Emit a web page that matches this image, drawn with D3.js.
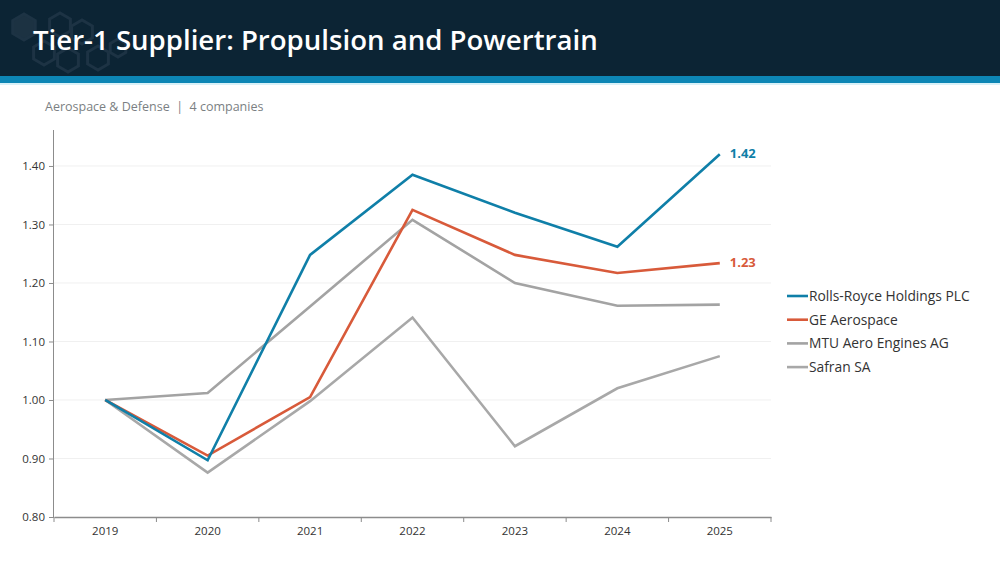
<!DOCTYPE html>
<html>
<head>
<meta charset="utf-8">
<script src="https://cdn.jsdelivr.net/npm/d3@7"></script>
<style>
  body { margin: 0; background: #fff; font-family: "Open Sans", "Noto Sans", sans-serif; }
  svg { display: block; }
</style>
</head>
<body>
<svg id="chart" width="1000" height="562"></svg>
<script>
// chart data
const years = ["2019", "2020", "2021", "2022", "2023", "2024", "2025"];
const rollsRoyce = [1.00, 0.897, 1.248, 1.385, 1.320, 1.262, 1.42];
const geAerospace = [1.00, 0.905, 1.005, 1.325, 1.248, 1.217, 1.234];
const mtuAero = [1.00, 1.012, 1.16, 1.308, 1.200, 1.161, 1.163];
const safran = [1.00, 0.876, 0.998, 1.141, 0.921, 1.020, 1.075];
const yTicks = [0.80, 0.90, 1.00, 1.10, 1.20, 1.30, 1.40];

const seriesNames = ["Rolls-Royce Holdings PLC", "GE Aerospace", "MTU Aero Engines AG", "Safran SA"];
const seriesValues = [rollsRoyce, geAerospace, mtuAero, safran];
const colors = ["#0f7fa8", "#d85a3a", "#a3a3a3", "#a8a8a8"];
const endLabels = ["1.42", "1.23", null, null];

const svg = d3.select("#chart");

// header bar
svg.append("rect").attr("x", 0).attr("y", 0).attr("width", 1000).attr("height", 76).attr("fill", "#0c2434");
svg.append("rect").attr("x", 0).attr("y", 76).attr("width", 1000).attr("height", 7).attr("fill", "#0d86b5");
svg.append("rect").attr("x", 0).attr("y", 83).attr("width", 1000).attr("height", 2).attr("fill", "#d8f1f8");

// faint hexagon logo
const hex = (cx, cy, r) => d3.range(6).map(i => {
  const a = Math.PI / 3 * i + Math.PI / 6;
  return [cx + r * Math.cos(a), cy + r * Math.sin(a)];
});
const hexes = [[24, 27, 13, true], [60, 25, 12, false], [82, 32, 12, false], [44, 53, 12, false], [68, 60, 12, false], [98, 58, 12, false], [118, 48, 9, false]];
hexes.forEach(([cx, cy, r, filled]) => {
  svg.append("path")
    .attr("d", d3.line()(hex(cx, cy, r)) + "Z")
    .attr("fill", filled ? "#1c3242" : "none")
    .attr("stroke", "#1d3344")
    .attr("stroke-width", 3);
});

svg.append("text")
  .attr("x", 33).attr("y", 50)
  .attr("fill", "#fff")
  .attr("font-size", 27.6)
  .attr("font-weight", 600)
  .attr("font-family", "'Open Sans', sans-serif")
  .text("Tier-1 Supplier: Propulsion and Powertrain");

svg.append("text")
  .attr("x", 45).attr("y", 111)
  .attr("fill", "#7b7f83")
  .attr("font-size", 12.5)
  .attr("xml:space", "preserve")
  .style("white-space", "pre")
  .text("Aerospace & Defense  |  4 companies");

// plot area
const margin = { top: 130, left: 54, right: 771, bottom: 517 };

const x = d3.scaleBand().domain(years).range([margin.left, margin.right]);
const y = d3.scaleLinear().domain([0.8, 1.4615]).range([margin.bottom, margin.top]);

// gridlines
svg.append("g")
  .selectAll("line")
  .data(yTicks.slice(1))
  .join("line")
  .attr("x1", margin.left).attr("x2", margin.right)
  .attr("y1", d => y(d)).attr("y2", d => y(d))
  .attr("stroke", "#f0f0f0");

// y axis
const yAxis = svg.append("g")
  .attr("transform", `translate(${margin.left},0)`)
  .call(d3.axisLeft(y).tickValues(yTicks).tickFormat(d3.format(".2f")).tickSize(5).tickPadding(4));
yAxis.select(".domain").attr("stroke", "#8c8c8c").attr("d", `M-0.5,${margin.top}V${margin.bottom}`);
yAxis.selectAll(".tick line").attr("stroke", "#8c8c8c");
yAxis.selectAll("text").attr("fill", "#333").attr("font-size", 11.5).attr("font-family", "'Open Sans', sans-serif");

// x axis with ticks between categories
const xAxis = svg.append("g")
  .attr("transform", `translate(0,${margin.bottom})`)
  .call(d3.axisBottom(x).tickSize(0).tickPadding(10));
xAxis.select(".domain").attr("stroke", "#8c8c8c").attr("stroke-width", 1.5);
xAxis.selectAll("text").attr("fill", "#333").attr("font-size", 11.5).attr("font-family", "'Open Sans', sans-serif");
xAxis.selectAll(".sep")
  .data(d3.range(years.length + 1))
  .join("line")
  .attr("class", "sep")
  .attr("x1", i => margin.left + i * x.bandwidth())
  .attr("x2", i => margin.left + i * x.bandwidth())
  .attr("y1", 0).attr("y2", 5)
  .attr("stroke", "#8c8c8c");

// lines (draw grays first so colored lines sit on top)
const line = d3.line()
  .x((d, i) => x(years[i]) + x.bandwidth() / 2)
  .y(d => y(d));

const order = [3, 2, 1, 0];
order.forEach(k => {
  svg.append("path")
    .datum(seriesValues[k])
    .attr("fill", "none")
    .attr("stroke", colors[k])
    .attr("stroke-width", 2.6)
    .attr("stroke-linejoin", "miter")
    .attr("d", line);
});

// end labels
seriesValues.forEach((vals, k) => {
  if (!endLabels[k]) return;
  const last = vals.length - 1;
  svg.append("text")
    .attr("x", x(years[last]) + x.bandwidth() / 2 + 10)
    .attr("y", y(vals[last]) + 4)
    .attr("fill", colors[k])
    .attr("font-size", 13)
    .attr("font-weight", "bold")
    .attr("font-family", "'Open Sans', sans-serif")
    .text(endLabels[k]);
});

// legend
const legend = svg.append("g").attr("transform", "translate(787,296)");
seriesNames.forEach((name, i) => {
  const g = legend.append("g").attr("transform", `translate(0,${i * 23.7})`);
  g.append("line").attr("x1", 0).attr("x2", 21).attr("y1", 0).attr("y2", 0)
    .attr("stroke", colors[i]).attr("stroke-width", 2.6);
  g.append("text").attr("x", 22).attr("y", 5)
    .attr("fill", "#333").attr("font-size", 13.8)
    .attr("font-family", "'Open Sans', sans-serif")
    .text(name);
});
</script>
</body>
</html>
